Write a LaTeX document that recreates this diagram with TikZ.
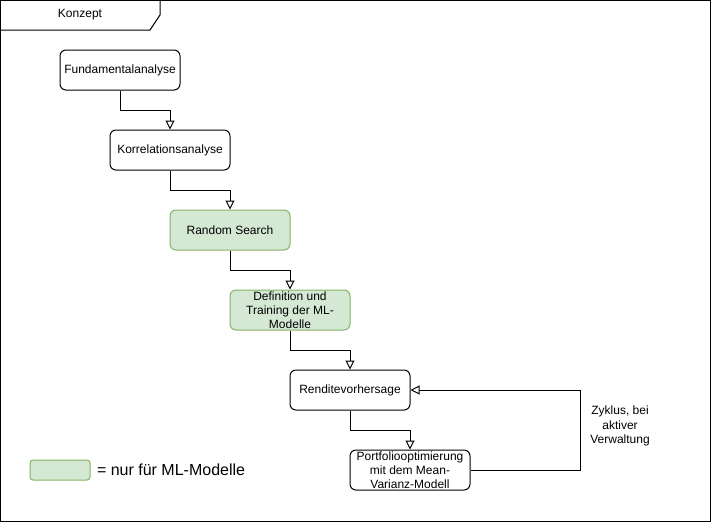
\documentclass[tikz,border=0pt]{standalone}
\usepackage{fontspec}
\setmainfont{Liberation Sans}
\usetikzlibrary{arrows.meta,positioning}
\definecolor{mlfill}{HTML}{D5E8D4}
\definecolor{mldraw}{HTML}{82B366}
\tikzset{
  schritt/.style={draw, line width=1pt, rounded corners=6pt, minimum width=120pt,
    minimum height=40pt, align=center, inner sep=1pt,
    font=\fontsize{12}{14}\selectfont},
  ml/.style={schritt, fill=mlfill, draw=mldraw},
  pfeil/.style={line width=1pt, -{Triangle[open, length=9pt, width=9pt, fill=white]}}
}
\begin{document}
\begin{tikzpicture}[x=1pt, y=-1pt]
  \useasboundingbox (0,0) rectangle (711,522);
  % Rahmen und Reiter
  \draw[line width=1pt] (0.5,0.5) rectangle (710.5,521.5);
  \draw[line width=1pt] (0.5,30) -- (150,30) -- (160,15) -- (160,0.5);
  \node[font=\fontsize{12}{14}\selectfont] (titel) at (80,15) {Konzept};
  % Schritte
  \node[schritt] (fund) at (120,70) {Fundamentalanalyse};
  \node[schritt] (korr) at (170,150) {Korrelationsanalyse};
  \node[ml] (rs) at (230,230) {Random Search};
  \node[ml] (def) at (290,310) {Definition und\\Training der ML-\\Modelle};
  \node[schritt] (rend) at (350,390) {Renditevorhersage};
  \node[schritt] (port) at (410,470) {Portfoliooptimierung\\mit dem Mean-\\Varianz-Modell};
  % Verbindungen
  \draw[pfeil] (fund.south) -- ++(0,20) -| (korr.north);
  \draw[pfeil] (korr.south) -- ++(0,20) -| (rs.north);
  \draw[pfeil] (rs.south) -- ++(0,20) -| (def.north);
  \draw[pfeil] (def.south) -- ++(0,20) -| (rend.north);
  \draw[pfeil] (rend.south) -- ++(0,20) -| (port.north);
  \draw[pfeil] (port.east) -- ++(110,0) |- (rend.east);
  \node[align=center, font=\fontsize{12}{14.5}\selectfont] (zyklus) at (620,426)
    {Zyklus, bei\\aktiver\\Verwaltung};
  % Legende
  \node[ml, minimum width=60pt, minimum height=20pt, rounded corners=3pt] (leg) at (60,470) {};
  \node[right=3pt of leg, font=\fontsize{16}{18}\selectfont] (legtext) {= nur für ML-Modelle};
\end{tikzpicture}
\end{document}
